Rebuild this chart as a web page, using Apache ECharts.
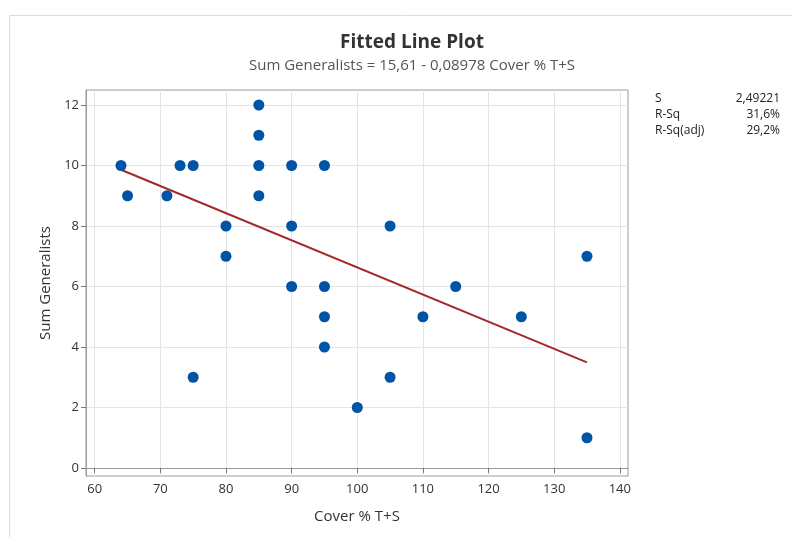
<!DOCTYPE html>
<html>
<head>
<meta charset="utf-8">
<script src="https://cdn.jsdelivr.net/npm/echarts@6/dist/echarts.min.js"></script>
<style>
  html, body { margin: 0; padding: 0; background: #fff; }
  #chart { width: 792px; height: 537px; }
</style>
</head>
<body>
<div id="chart"></div>
<script>
// data
const coverX = [64, 65, 71, 73, 75, 75, 80, 80, 85, 85, 85, 85, 90, 90, 90, 95, 95, 95, 95, 100, 105, 105, 110, 115, 125, 135, 135]
const generalistsY = [10, 9, 9, 10, 10, 3, 8, 7, 12, 11, 10, 9, 10, 8, 6, 10, 6, 5, 4, 2, 8, 3, 5, 6, 5, 7, 1]
// fitted line end points
const fitX = [64, 135]
const fitY = [9.86, 3.49]
const xTicks = [60, 70, 80, 90, 100, 110, 120, 130, 140]
const yTicks = [0, 2, 4, 6, 8, 10, 12]
const statNames = ['S', 'R-Sq', 'R-Sq(adj)']
const statValues = ['2,49221', '31,6%', '29,2%']

const font = '"Open Sans", "Noto Sans", sans-serif'
const chart = echarts.init(document.getElementById('chart'))

const statsText = []
statNames.forEach((name, i) => {
  statsText.push({
    type: 'text', left: 655, top: 93 + i * 16,
    style: { text: name, font: '12px ' + font, fill: '#222' }
  })
  statsText.push({
    type: 'text', right: 12, top: 93 + i * 16,
    style: { text: statValues[i], font: '12px ' + font, fill: '#222', align: 'right' }
  })
})

const option = {
  animation: false,
  title: {
    text: 'Fitted Line Plot',
    subtext: 'Sum Generalists = 15,61 - 0,08978 Cover % T+S',
    left: 407,
    textAlign: 'center',
    top: 28,
    itemGap: 6,
    textStyle: { fontFamily: font, fontSize: 19, fontWeight: 'bold', color: '#333' },
    subtextStyle: { fontFamily: font, fontSize: 15, color: '#555' }
  },
  grid: {
    left: 86, right: 164, top: 90, bottom: 61,
    show: true, borderColor: '#9a9a9a', borderWidth: 1
  },
  xAxis: {
    type: 'value',
    min: 58.67, max: 141.25,
    name: 'Cover % T+S',
    nameLocation: 'middle',
    nameGap: 33,
    nameTextStyle: { fontFamily: font, fontSize: 15, color: '#333' },
    axisLine: { show: true, lineStyle: { color: '#9a9a9a' } },
    axisTick: { show: true, length: 5, customValues: xTicks, lineStyle: { color: '#777' } },
    axisLabel: { customValues: xTicks, fontFamily: font, fontSize: 13, color: '#333', margin: 7 },
    splitLine: { show: true, lineStyle: { color: '#e4e4e4' } }
  },
  yAxis: {
    type: 'value',
    min: -0.264, max: 12.496,
    name: 'Sum Generalists',
    nameLocation: 'middle',
    nameGap: 30,
    nameTextStyle: { fontFamily: font, fontSize: 15, color: '#333' },
    axisLine: { show: true, lineStyle: { color: '#9a9a9a' } },
    axisTick: { show: true, length: 5, customValues: yTicks, lineStyle: { color: '#777' } },
    axisLabel: { customValues: yTicks, fontFamily: font, fontSize: 13, color: '#333', margin: 7 },
    splitLine: { show: true, lineStyle: { color: '#e4e4e4' } }
  },
  graphic: [
    {
      type: 'rect', left: 7, top: 13, z: -10,
      shape: { width: 800, height: 540 },
      style: { fill: 'none', stroke: '#dcdcdc', lineWidth: 1 }
    },
    ...statsText
  ],
  series: [
    {
      type: 'line',
      data: fitX.map((x, i) => [x, fitY[i]]),
      showSymbol: false,
      lineStyle: { color: '#a3292b', width: 2 },
      z: 3
    },
    {
      type: 'scatter',
      data: coverX.map((x, i) => [x, generalistsY[i]]),
      symbolSize: 11,
      itemStyle: { color: '#0054a6', opacity: 1 },
      z: 4
    }
  ]
}

chart.setOption(option)
</script>
</body>
</html>
